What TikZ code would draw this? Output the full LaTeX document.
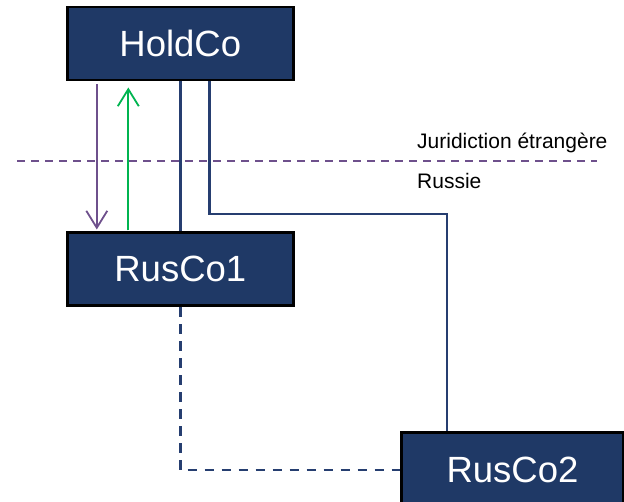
\documentclass[tikz,border=0pt]{standalone}
\usepackage{fontspec}
\setmainfont{Liberation Sans}
\usetikzlibrary{arrows.meta}
\definecolor{boxnavy}{RGB}{31,57,102}
\definecolor{linknavy}{RGB}{38,62,112}
\definecolor{flowpurple}{RGB}{110,80,140}
\definecolor{flowgreen}{RGB}{0,180,80}
\tikzset{
  entity/.style={draw=black, line width=2.8pt, fill=boxnavy, text=white,
    minimum width=226pt, minimum height=73pt, inner sep=0pt,
    font=\fontsize{36.5}{40}\selectfont},
  link/.style={draw=linknavy, line width=2.6pt},
  dlink/.style={link, dash pattern=on 9.5pt off 7.5pt},
  border/.style={draw=flowpurple, line width=1.8pt, dash pattern=on 8pt off 6pt},
  label/.style={anchor=base west, inner sep=0pt, font=\fontsize{21}{25}\selectfont},
  barb/.style={-{Straight Barb[length=17pt,width=21pt,line width=1.8pt]}}
}
\begin{document}
\begin{tikzpicture}[x=1pt,y=-1pt]
\useasboundingbox (0,0) rectangle (624,502);

% jurisdiction boundary
\coordinate (bl) at (17,161);
\coordinate (br) at (597,161);
\draw[border] (bl) -- (br);
\node[label] (foreign) at (417,148.5) {Juridiction étrangère};
\node[label] (russia) at (417,188.5) {Russie};

% entities
\node[entity] (HoldCo) at (180.3,43.6) {HoldCo};
\node[entity] (RusCo1) at (180.3,269.4) {RusCo1};
\node[entity, minimum width=221.6pt, minimum height=75pt] (RusCo2) at (512.5,470) {RusCo2};

% ownership links
\coordinate (turn) at (447,214);
\draw[link] (HoldCo.south) -- (RusCo1.north);
\draw[link] ([xshift=29pt]HoldCo.south) |- (turn) -- (turn |- RusCo2.north);
\draw[dlink] (RusCo1.south) |- (RusCo2.west);

% flows
\draw[flowpurple, line width=1.8pt, barb, shorten <=3pt, shorten >=2pt]
  ([xshift=-83.5pt]HoldCo.south) -- ([xshift=-83.5pt]RusCo1.north);
\draw[flowgreen, line width=2.2pt, barb, shorten <=1pt, shorten >=6pt]
  ([xshift=-52pt]RusCo1.north) -- ([xshift=-52pt]HoldCo.south);
\end{tikzpicture}
\end{document}
